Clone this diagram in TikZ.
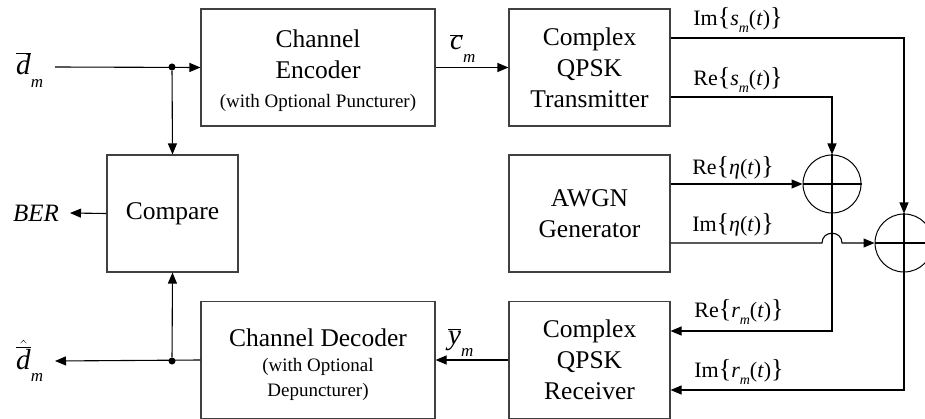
\documentclass[tikz,border=0pt]{standalone}
\usepackage{fontspec}
\setmainfont{Liberation Serif}
\usetikzlibrary{arrows.meta,calc}
\newcommand{\bigbr}[1]{{\fontsize{26}{26}\selectfont#1}}
\newcommand{\sbm}[1]{\raisebox{-0.3em}{\fontsize{14}{14}\selectfont\textit{#1}}}
\newcommand{\sbb}[1]{\raisebox{-0.42em}{\fontsize{17}{17}\selectfont\textit{#1}}}
\newcommand{\ovl}[1]{\ensuremath{\overline{\mbox{\textit{#1}}}}}
\begin{document}
\begin{tikzpicture}[x=1pt,y=-1pt,
  box/.style={draw=black!75,line width=1.1pt,minimum height=117,inner sep=0pt,align=center,
    font=\fontsize{25.5}{31}\selectfont},
  txt/.style={inner sep=0pt,align=center,font=\fontsize{25.5}{31}\selectfont},
  sumc/.style={draw,circle,line width=1pt,minimum size=58,inner sep=0pt},
  wire/.style={line width=1.1pt},
  arr/.style={wire,-{Triangle[length=11pt,width=9pt]}},
  dot/.style={circle,fill,inner sep=0pt,minimum size=7},
  lbl/.style={font=\fontsize{22}{22}\selectfont,inner sep=0pt},
  sym/.style={font=\fontsize{29}{29}\selectfont,inner sep=0pt,anchor=base west}]
\useasboundingbox (0,0) rectangle (925,419);
% blocks
\node[box,minimum width=234] (enc) at (318,67.5) {};
\node[txt] (enct) at (318,71) {Channel\\Encoder\\[-2pt]{\fontsize{19}{24}\selectfont (with Optional Puncturer)}};
\node[box,minimum width=131] (cmp) at (172.5,213.5) {Compare};
\node[box,minimum width=234] (dec) at (318,360) {};
\node[txt] (dect) at (318,364.5) {Channel Decoder\\[-6pt]{\fontsize{19}{24}\selectfont (with Optional}\\[-6pt]{\fontsize{19}{24}\selectfont Depuncturer)}};
\node[box,minimum width=161] (tx) at (589.5,67.5) {Complex\\QPSK\\Transmitter};
\node[box,minimum width=161] (awgn) at (589.5,213.5) {AWGN\\Generator};
\node[box,minimum width=161] (rx) at (589.5,360) {Complex\\QPSK\\Receiver};
\node[sumc] (add1) at (832,184) {};
\node[sumc] (add2) at (904,243) {};
\draw[wire] (add1.north) -- (add1.south) (add1.west) -- (add1.east);
\draw[wire] (add2.north) -- (add2.south) (add2.west) -- (add2.east);
% symbols
\node[sym] (din) at (16,75) {\ovl{d}\sbb{m}};
\node[sym,font=\fontsize{25}{25}\selectfont,anchor=center] (ber) at (36,213) {\textit{BER}};
\node[sym] (dout) at (16,369) {$\hat{\overline{\mbox{\textit{d}}}}$\sbb{m}};
\node[sym] (cm) at (450,50) {\ovl{c}\sbb{m}};
\node[sym] (ym) at (448,344) {\ovl{y}\sbb{m}};
\coordinate (dinE) at (55,67);
\coordinate (berE) at (70,213);
\coordinate (doutE) at (55,361);
\node[dot] (j1) at (172,67) {};
\node[dot] (j2) at (172,361) {};
% connectors
\draw[arr] (dinE) -- (enc.west);
\draw[arr] (j1) -- (cmp.north);
\draw[arr] (cmp.west) -- (berE);
\draw[arr] (dec.west) -- (doutE);
\draw[arr] (j2) -- (cmp.south);
\draw[arr] (enc.east) -- (tx.west);
\draw[arr] (rx.west) -- (dec.east);
\coordinate (txIm) at ([yshift=29.5pt]tx.east);
\coordinate (txRe) at ([yshift=-29.5pt]tx.east);
\coordinate (awRe) at ([yshift=29.5pt]awgn.east);
\coordinate (awIm) at ([yshift=-29.5pt]awgn.east);
\coordinate (rxRe) at ([yshift=29pt]rx.east);
\coordinate (rxIm) at ([yshift=-30pt]rx.east);
\draw[arr] (txIm) -| (add2.north);
\draw[arr] (txRe) -| (add1.north);
\draw[arr] (awRe) -- (add1.west);
\draw[arr] (awIm) -- (822,243) .. controls (822,230) and (842,230) .. (842,243) -- (add2.west);
\draw[arr] (add1.south) |- (rxRe);
\draw[arr] (add2.south) |- (rxIm);
% labels
\node[lbl] (l1) at (738,20) {Im\bigbr{\{}\textit{s}\sbm{m}(\textit{t})\bigbr{\}}};
\node[lbl] (l2) at (738,80) {Re\bigbr{\{}\textit{s}\sbm{m}(\textit{t})\bigbr{\}}};
\node[lbl] (l3) at (733,168) {Re\bigbr{\{}\textit{η}(\textit{t})\bigbr{\}}};
\node[lbl] (l4) at (733,225) {Im\bigbr{\{}\textit{η}(\textit{t})\bigbr{\}}};
\node[lbl] (l5) at (739,312) {Re\bigbr{\{}\textit{r}\sbm{m}(\textit{t})\bigbr{\}}};
\node[lbl] (l6) at (739,372) {Im\bigbr{\{}\textit{r}\sbm{m}(\textit{t})\bigbr{\}}};
\end{tikzpicture}
\end{document}
